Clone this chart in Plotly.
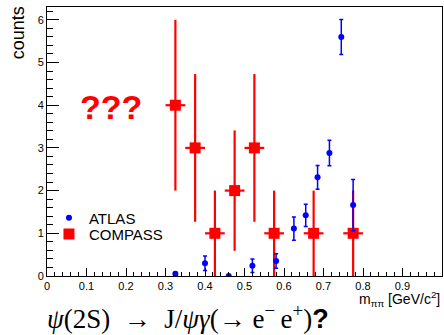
import plotly.graph_objects as go

# ATLAS data
atlas_x = [0.325, 0.40, 0.46, 0.52, 0.58, 0.625, 0.655, 0.685, 0.715, 0.745, 0.775]
atlas_y = [0.05, 0.30, 0.00, 0.24, 0.35, 1.11, 1.42, 2.31, 2.88, 5.60, 1.66]
atlas_err = [0.04, 0.17, 0.0, 0.16, 0.17, 0.27, 0.26, 0.28, 0.30, 0.41, 0.60]

# COMPASS data
compass_x = [0.325, 0.375, 0.425, 0.475, 0.525, 0.575, 0.675, 0.775]
compass_y = [4, 3, 1, 2, 3, 1, 1, 1]
compass_err = [2.0, 1.73, 1.0, 1.41, 1.73, 1.0, 1.0, 1.0]
compass_xerr = [0.025] * len(compass_x)

fig = go.Figure()

fig.add_trace(go.Scatter(
    x=compass_x, y=compass_y, mode="markers", name="COMPASS",
    marker=dict(symbol="square", size=11, color="#ff0000"),
    error_y=dict(type="data", array=compass_err, color="#ff0000", thickness=2.2, width=0),
    error_x=dict(type="data", array=compass_xerr, color="#ff0000", thickness=2.2, width=0),
    legend="legend2",
))

fig.add_trace(go.Scatter(
    x=atlas_x, y=atlas_y, mode="markers", name="ATLAS",
    marker=dict(symbol="circle", size=6, color="#0000ff"),
    error_y=dict(type="data", array=atlas_err, color="#0000ff", thickness=1.5, width=2),
    legend="legend",
))

tick_font = dict(family="Liberation Sans, Arial, sans-serif", size=11, color="black")
leg_font = dict(family="Liberation Sans, Arial, sans-serif", size=15, color="black")

fig.update_layout(
    width=444, height=335,
    margin=dict(l=47, r=2, t=7, b=59),
    paper_bgcolor="white", plot_bgcolor="white",
    showlegend=True,
    legend=dict(
        x=0.005, y=0.277, xanchor="left", yanchor="top",
        bgcolor="rgba(0,0,0,0)", font=leg_font, itemwidth=30,
    ),
    legend2=dict(
        x=0.005, y=0.217, xanchor="left", yanchor="top",
        bgcolor="rgba(0,0,0,0)", font=leg_font, itemwidth=30,
    ),
    xaxis=dict(
        range=[0, 1], dtick=0.1, tick0=0,
        showgrid=False, zeroline=False,
        showline=True, linecolor="black", linewidth=1, mirror=True,
        ticks="inside", ticklen=8, tickcolor="black",
        minor=dict(ticks="inside", ticklen=4, dtick=0.02, tickcolor="black", showgrid=False),
        tickfont=tick_font,
    ),
    yaxis=dict(
        range=[0, 6.3], dtick=1, tick0=0,
        showgrid=False, zeroline=False,
        showline=True, linecolor="black", linewidth=1, mirror=True,
        ticks="inside", ticklen=12, tickcolor="black",
        minor=dict(ticks="inside", ticklen=6, dtick=0.2, tickcolor="black", showgrid=False),
        tickfont=tick_font,
    ),
)

fig.add_annotation(
    text="counts", textangle=-90, xref="paper", yref="paper",
    x=-0.075, y=1.01, xanchor="center", yanchor="top", showarrow=False,
    font=dict(family="Liberation Sans, Arial, sans-serif", size=18, color="black"),
)

fig.add_annotation(
    text="m<sub>ππ</sub> [GeV/c<sup>2</sup>]", xref="paper", yref="paper",
    x=1.0, y=-0.04, xanchor="right", yanchor="top", showarrow=False,
    font=dict(family="Liberation Sans, Arial, sans-serif", size=14, color="black"),
)

fig.add_annotation(
    text="???", xref="paper", yref="paper",
    x=0.162, y=0.63, xanchor="center", yanchor="middle", showarrow=False,
    font=dict(family="Liberation Sans, Arial, sans-serif", size=34, color="#ff0000", weight="bold"),
)

fig.add_annotation(
    text=("<i>ψ</i>(2S)&nbsp; → &nbsp;J/<i>ψγ</i>(→ e<sup>−</sup>&#8201;e<sup>+</sup>)"
          "<b><span style='font-family:Liberation Sans'>?</span></b>"),
    xref="paper", yref="paper",
    x=-0.005, y=-0.152, xanchor="left", yanchor="middle", showarrow=False,
    font=dict(family="Liberation Serif, Times New Roman, serif", size=27, color="black"),
)

fig.write_html("out.html", config={"displayModeBar": False},
               post_script="document.body.style.margin='0';")
